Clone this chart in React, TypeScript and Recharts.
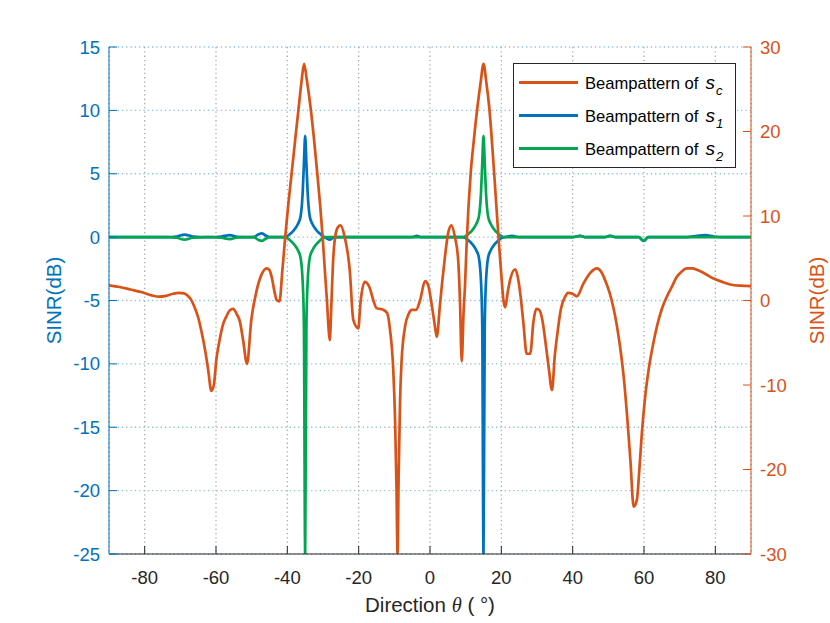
import React from "react";
import { LineChart, Line, XAxis, YAxis, CartesianGrid, Legend, Label } from "recharts";

const FONT = '"Liberation Sans", Arial, Helvetica, sans-serif';
const BLUE = "#0072BD";
const ORANGE = "#D95319";
const GREEN = "#00A650";
const INK = "#262626";

const xTicks = [-80, -60, -40, -20, 0, 20, 40, 60, 80];
const leftTicks = [-25, -20, -15, -10, -5, 0, 5, 10, 15];
const rightTicks = [-30, -20, -10, 0, 10, 20, 30];

// beampattern of s_c (right axis, dB)
const scTheta = [
  -90, -87, -84, -81, -78, -76, -74, -72, -70.5, -69, -68, -67, -66, -65, -64, -63, -62.2, -61.3, -60.6, -59.9,
  -59, -58, -57.1, -56.2, -55.2, -54.2, -53.3, -52.4, -51.3, -50.1, -48.6, -47.3, -45.8, -45, -44.4, -43.5, -43,
  -42.2, -41.4, -40.6, -39.7, -38.8, -37.8, -36.8, -36, -35.3, -34.5, -33.5, -32.5, -31.6, -30.8, -30.1, -29.5,
  -28.9, -28.4, -28.1, -27.7, -27.2, -26.4, -25.6, -25.1, -23.9, -22.5, -21.5, -20.1, -19.5, -18.3, -17, -16, -15,
  -13.1, -12, -11.2, -10.3, -9.8, -9.4, -9.1, -8.8, -8.4, -8, -7, -6, -5.1, -3.9, -2.8, -1.4, -0.5, 0.4, 1.2, 1.9,
  2.8, 3.5, 4.2, 5.1, 6, 7, 7.9, 8.4, 8.9, 9.4, 9.8, 10.3, 11.4, 12.3, 13.3, 14.2, 15, 15.8, 16.6, 18, 19.2, 20,
  20.6, 21.1, 21.8, 22.5, 23.9, 24.6, 25.3, 26.2, 27.1, 28.1, 29, 29.8, 30.6, 31.5, 32.4, 33.3, 34.2, 35, 35.6,
  36.7, 37.9, 38.7, 39.9, 41.2, 43, 45, 46.8, 48, 49.1, 50.3, 51.4, 52.4, 53.3, 54.3, 55.2, 56.2, 57.1, 58, 58.7,
  59.4, 60.3, 61.3, 62.5, 63.6, 65, 66.4, 68, 69.2, 70.5, 72, 73.5, 75, 77, 79.5, 82, 84.2, 87, 90,
];
const scGain = [
  1.8, 1.6, 1.3, 1.0, 0.6, 0.45, 0.55, 0.8, 0.9, 0.85, 0.6, 0.1, -0.8, -2, -3.8, -6, -8.2, -10.7, -10, -7,
  -4.7, -2.8, -1.9, -1.2, -1, -1.6, -2.5, -4.7, -7.5, -2.3, 1.2, 3.0, 3.8, 3.6, 2.8, 0.85, 0.05,
  -0.1, 3.5, 7.5, 11.5, 15, 19, 22.9, 26, 28, 26, 22.9, 19, 15, 11.3, 7.5, 3.7,
  0, -3.5, -4.7, -1, 4.4, 8, 8.8, 8.9, 7.5, 3.6, -2.3, -3.3, -0.3, 2.2, 1.6, 0.2, -0.9,
  -1.1, -1.5, -3.5, -8.2, -14, -22, -30, -21, -12, -7.4, -3.1, -1.6, -1.1, -1.1, 0, 2.3, 1.8, -0.3, -2.5, -4.3,
  -0.5, 2.5, 5.2, 8, 8.9, 7.5, 4.8, 0, -7.2, -1.5, 1.6, 7, 15, 19, 22.9, 25.8, 28, 25.8, 22.9, 15, 7.5, 3,
  0, -0.8, 1, 2.5, 3.7, 2.8, 0.85, -2.7, -6.3, -6.3, -2.5, -1, -1.1, -2.3, -5, -8, -10.6, -6.5, -4.3,
  -1, 0.45, 0.9, 0.8, 0.5, 2, 3.3, 3.8, 3.4, 2.4, 1, -0.8, -3, -5.5, -9, -13.3, -19, -24.4, -23.6, -20,
  -15.7, -11.5, -8.2, -5.3, -3.1, -1, 0.45, 1.8, 2.8, 3.4, 3.8, 3.8, 3.6, 3.2, 2.6, 2.2, 1.9, 1.75, 1.7,
];

// beampattern of s_1 (left axis, dB)
const s1Theta = [
  -90, -74, -71, -68.8, -66.5, -62, -58.5, -56.1, -54, -49.5, -48.2, -47.2, -46.2, -45, -41, -40.2, -39, -38, -37,
  -36.3, -35.7, -35.35, -35, -34.65, -34.3, -33.7, -33, -32, -31, -29.8, -29, -28.1, -27.2, -26, -5, -3.7, -2.5,
  9, 9.8, 11, 12, 13, 13.7, 14.3, 14.65, 15, 15.35, 15.7, 16.3, 17, 18, 19, 20.2, 21, 23, 25, 40, 42.1, 43.5, 49,
  50.5, 52, 58.5, 59.9, 61.2, 72, 75, 77.2, 79.5, 82, 90,
];
const s1Gain = [
  0, 0, 0.05, 0.2, 0.05, 0, 0.05, 0.15, 0.02, 0, 0.2, 0.3, 0.15, 0, 0, 0.05, 0.3, 0.6, 1.05,
  1.6, 3.5, 5.8, 8, 5.8, 3.5, 1.6, 1.05, 0.6, 0.3, 0.05, -0.1, -0.2, -0.05, 0, 0, 0.1, 0,
  0, -0.05, -0.3, -0.6, -1.05, -1.6, -3.5, -7, -25, -7, -3.5, -1.6, -1.05, -0.6, -0.3, -0.05, 0, 0.1, 0, 0, 0.1, 0, 0,
  0.1, 0, 0, -0.3, 0, 0, 0.1, 0.15, 0.05, 0, 0,
];

// beampattern of s_2 (left axis, dB)
const s2Theta = [
  -90, -74, -71, -68.8, -66.5, -62, -58.5, -56.1, -54, -49.5, -48.2, -47.2, -46.2, -45, -41, -40.2, -39, -38, -37,
  -36.3, -35.7, -35.35, -35, -34.65, -34.3, -33.7, -33, -32, -31, -29.8, -29, -26, 9, 9.8, 11, 12, 13, 13.7, 14.3,
  14.65, 15, 15.35, 15.7, 16.3, 17, 18, 19, 20.2, 21, 40, 42.1, 43.5, 49, 50.5, 52, 58.5, 59.9, 61.2, 90,
];
const s2Gain = [
  0, 0, -0.05, -0.2, -0.05, 0, -0.05, -0.15, -0.02, 0, -0.2, -0.3, -0.15, 0, 0, -0.05, -0.3, -0.6, -1.05,
  -1.6, -3.5, -7, -25, -7, -3.5, -1.6, -1.05, -0.6, -0.3, -0.05, 0, 0, 0, 0.05, 0.3, 0.6, 1.05, 1.6, 3.5,
  5.8, 8, 5.8, 3.5, 1.6, 1.05, 0.6, 0.3, 0.05, 0, 0, 0.1, 0, 0, 0.1, 0, 0, -0.3, 0, 0,
];

const toPoints = (theta: number[], gain: number[]) => theta.map((t, i) => ({ theta: t, gain: gain[i] }));
const scData = toPoints(scTheta, scGain);
const s1Data = toPoints(s1Theta, s1Gain);
const s2Data = toPoints(s2Theta, s2Gain);

const legendItems = [
  { sub: "c", color: ORANGE },
  { sub: "1", color: BLUE },
  { sub: "2", color: GREEN },
];

function BeamLegend() {
  return (
    <div
      style={{
        position: "relative",
        width: 223,
        height: 105,
        boxSizing: "border-box",
        border: `1.5px solid ${INK}`,
        background: "#fff",
        fontFamily: FONT,
      }}
    >
      {legendItems.map((it, i) => (
        <div
          key={it.sub}
          style={{ position: "absolute", left: 0, top: 2 + i * 33, height: 33, display: "flex", alignItems: "center" }}
        >
          <span style={{ display: "inline-block", marginLeft: 5, width: 59, height: 2.7, background: it.color }} />
          <span style={{ marginLeft: 7, fontSize: 16.6, color: "#000", whiteSpace: "nowrap" }}>
            Beampattern of
            <span style={{ fontStyle: "italic", fontSize: 19, marginLeft: 7 }}>s</span>
            <span style={{ fontStyle: "italic", fontSize: 13, position: "relative", top: 6, marginLeft: 1 }}>{it.sub}</span>
          </span>
        </div>
      ))}
    </div>
  );
}

const leftTitle = (props: any) => {
  const { x, y, height } = props.viewBox;
  const cx = x + 53;
  const cy = y + height / 2;
  return (
    <text x={cx} y={cy} transform={`rotate(-90 ${cx} ${cy})`} textAnchor="middle" dominantBaseline="central" fill={BLUE} fontSize={20.5} fontFamily={FONT}>
      SINR(dB)
    </text>
  );
};

const rightTitle = (props: any) => {
  const { x, y, height } = props.viewBox;
  const cx = x + 65;
  const cy = y + height / 2;
  return (
    <text x={cx} y={cy} transform={`rotate(-90 ${cx} ${cy})`} textAnchor="middle" dominantBaseline="central" fill={ORANGE} fontSize={20.5} fontFamily={FONT}>
      SINR(dB)
    </text>
  );
};

const bottomTitle = (props: any) => {
  const { x, y, width } = props.viewBox;
  return (
    <text x={x + width / 2} y={y + 58} textAnchor="middle" fill={INK} fontSize={20.5} fontFamily={FONT}>
      Direction{" "}
      <tspan fontStyle="italic" fontFamily='"Liberation Serif", serif'>θ</tspan> ( °)
    </text>
  );
};

export default function App() {
  return (
    <div style={{ position: "absolute", left: 0, top: 0, width: 830, height: 623, background: "#fff" }}>
      <LineChart width={830} height={623} margin={{ top: 47, right: 0, bottom: 0, left: 0 }}>
        <CartesianGrid xAxisId="x" yAxisId="left" vertical={false} stroke="#8EC0E4" strokeDasharray="1.3 3" strokeWidth={1.3} />
        <CartesianGrid xAxisId="x" yAxisId="left" horizontal={false} stroke="#ABABAB" strokeDasharray="1.3 3" strokeWidth={1.3} />
        <XAxis
          xAxisId="x"
          type="number"
          dataKey="theta"
          domain={[-90, 90]}
          ticks={xTicks}
          allowDataOverflow
          height={69}
          tickSize={-8}
          tickMargin={25}
          stroke={INK}
          tick={{ fill: INK, fontSize: 18.5, fontFamily: FONT }}
        >
          <Label content={bottomTitle} />
        </XAxis>
        <YAxis
          yAxisId="left"
          orientation="left"
          width={109}
          domain={[-25, 15]}
          ticks={leftTicks}
          allowDataOverflow
          tickSize={-8}
          tickMargin={17}
          stroke={BLUE}
          tick={{ fill: BLUE, fontSize: 18.5, fontFamily: FONT }}
        >
          <Label content={leftTitle} />
        </YAxis>
        <YAxis
          yAxisId="right"
          orientation="right"
          width={79}
          domain={[-30, 30]}
          ticks={rightTicks}
          allowDataOverflow
          tickSize={-8}
          tickMargin={17}
          stroke={ORANGE}
          tick={{ fill: ORANGE, fontSize: 18.5, fontFamily: FONT }}
        >
          <Label content={rightTitle} />
        </YAxis>
        <Legend
          layout="vertical"
          align="center"
          verticalAlign="middle"
          content={() => <BeamLegend />}
          wrapperStyle={{ position: "absolute", left: 513, top: 63, width: 223, height: 105 }}
        />
        <Line xAxisId="x" yAxisId="left" data={s1Data} dataKey="gain" name="s1" type="monotoneX" stroke={BLUE} strokeWidth={2.7} dot={false} activeDot={false} isAnimationActive={false} />
        <Line xAxisId="x" yAxisId="left" data={s2Data} dataKey="gain" name="s2" type="monotoneX" stroke={GREEN} strokeWidth={2.7} dot={false} activeDot={false} isAnimationActive={false} />
        <Line xAxisId="x" yAxisId="right" data={scData} dataKey="gain" name="sc" type="monotoneX" stroke={ORANGE} strokeWidth={2.7} dot={false} activeDot={false} isAnimationActive={false} />
      </LineChart>
    </div>
  );
}
